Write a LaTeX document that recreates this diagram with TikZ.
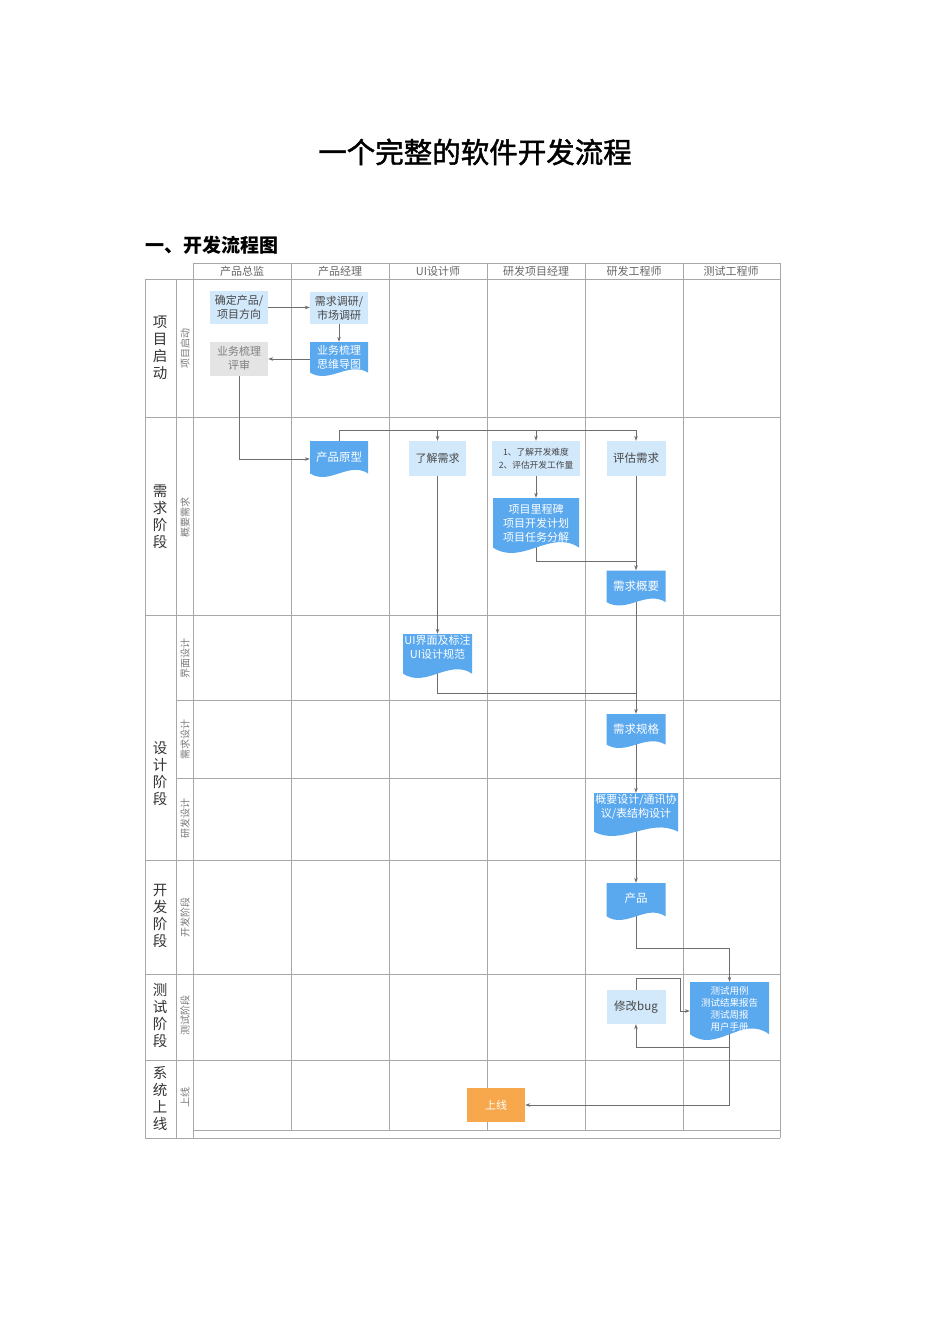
\documentclass[tikz,border=0pt]{standalone}
\usepackage{fontspec}
\setmainfont{Noto Sans CJK SC}
\newfontfamily\titlefont[FakeBold=1.5]{Noto Sans CJK SC}
\usetikzlibrary{calc,arrows.meta}
\pgfdeclarelayer{bg}
\pgfdeclarelayer{lines}
\pgfsetlayers{bg,lines,main}
\definecolor{gridc}{HTML}{A8A8A8}
\definecolor{lightb}{HTML}{D2E8FB}
\definecolor{docb}{HTML}{5AA8EE}
\definecolor{grayb}{HTML}{E4E4E4}
\definecolor{orangeb}{HTML}{F7A84C}
\definecolor{linec}{HTML}{6E6E6E}
\definecolor{headc}{HTML}{666666}
\definecolor{subc}{HTML}{7A7A7A}
\tikzset{
  gridline/.style={draw=gridc, line width=1pt},
  lightbox/.style={fill=lightb, text=black!72, font=\fontsize{11}{14}\selectfont, align=center, inner sep=0pt},
  graybox/.style={fill=grayb, text=black!50, font=\fontsize{11}{14}\selectfont, align=center, inner sep=0pt},
  orangebox/.style={fill=orangeb, text=white, font=\fontsize{11}{14}\selectfont, align=center, inner sep=0pt},
  docframe/.style={inner sep=0pt},
  doctext/.style={text=white, font=\fontsize{11}{14}\selectfont, align=center, inner sep=0pt},
  conn/.style={draw=linec, line width=0.8pt},
  arr/.style={conn, -{Stealth[length=5pt,width=3.6pt]}},
  headtext/.style={text=headc, font=\fontsize{11}{12}\selectfont, inner sep=0pt},
  phasetext/.style={text=black!80, font=\fontsize{14.5}{17}\selectfont, align=center, inner sep=0pt},
  subtext/.style={text=subc, font=\fontsize{10}{12}\selectfont, rotate=90, inner sep=0pt},
}
% name, cx, cy, w, h, text, text y offset
\newcommand\docnode[7]{%
  \fill[docb] ({#2-#4/2},{#3-#5/2}) -- ({#2+#4/2},{#3-#5/2}) -- ({#2+#4/2},{#3+0.4*#5})
    .. controls ({#2+#4/6},{#3+0.4*#5-0.345*#5}) and ({#2-#4/6},{#3+0.4*#5+0.345*#5}) .. ({#2-#4/2},{#3+0.4*#5}) -- cycle;
  \node[docframe, minimum width=#4pt, minimum height=#5pt] (#1) at (#2,#3) {};
  \node[doctext] (#1-t) at (#2,{#3+#7}) {#6};
}
\begin{document}
\begin{tikzpicture}[x=1pt,y=-1pt]
\useasboundingbox (0,0) rectangle (950,1344);
\begin{pgfonlayer}{bg}
  \fill[white] (0,0) rectangle (950,1344);
  % header row
  \draw[gridline] (193,263) -- (780,263);
  % full horizontal lines
  \foreach \yy in {279,417,615,860,974,1060,1138} \draw[gridline] (145,\yy) -- (780,\yy);
  \foreach \yy in {700,778} \draw[gridline] (176,\yy) -- (780,\yy);
  \draw[gridline] (193,1130) -- (780,1130);
  % verticals
  \draw[gridline] (145,279) -- (145,1138);
  \draw[gridline] (176,279) -- (176,1138);
  \draw[gridline] (193,263) -- (193,1138);
  \draw[gridline] (780,263) -- (780,1138);
  \foreach \xx in {291,389,487,585,683} \draw[gridline] (\xx,263) -- (\xx,1130);
\end{pgfonlayer}

% title and heading
\node[font=\fontsize{28.5}{31}\selectfont\titlefont, inner sep=0pt] (title) at (475,152) {一个完整的软件开发流程};
\node[font=\fontsize{19}{21}\selectfont\bfseries, anchor=west, inner sep=0pt] (heading) at (145,245) {一、开发流程图};

% header labels
\node[headtext] (hA) at (242,271) {产品总监};
\node[headtext] (hB) at (340,271) {产品经理};
\node[headtext] (hC) at (438,271) {UI设计师};
\node[headtext] (hD) at (536,271) {研发项目经理};
\node[headtext] (hE) at (634,271) {研发工程师};
\node[headtext] (hF) at (731,271) {测试工程师};

% phase labels
\node[phasetext] (pA) at (160,348) {项\\目\\启\\动};
\node[phasetext] (pB) at (160,517) {需\\求\\阶\\段};
\node[phasetext] (pC) at (160,774) {设\\计\\阶\\段};
\node[phasetext] (pD) at (160,916) {开\\发\\阶\\段};
\node[phasetext] (pE) at (160,1016) {测\\试\\阶\\段};
\node[phasetext] (pF) at (160,1099) {系\\统\\上\\线};

% sub labels
\node[subtext] (sA) at (185,348) {项目启动};
\node[subtext] (sB) at (185,517) {概要需求};
\node[subtext] (sC) at (185,658) {界面设计};
\node[subtext] (sD) at (185,739) {需求设计};
\node[subtext] (sE) at (185,818) {研发设计};
\node[subtext] (sF) at (185,917) {开发阶段};
\node[subtext] (sG) at (185,1015) {测试阶段};
\node[subtext] (sH) at (185,1097) {上线};

% boxes
\node[lightbox, minimum width=58pt, minimum height=33pt] (n1) at (239,307.5) {确定产品/\\项目方向};
\node[lightbox, minimum width=58pt, minimum height=32pt] (n2) at (339,308) {需求调研/\\市场调研};
\docnode{n3}{339}{359}{58}{34}{业务梳理\\思维导图}{-2}
\node[graybox, minimum width=58pt, minimum height=34pt] (n4) at (239,358.5) {业务梳理\\评审};
\docnode{n5}{339}{459}{58}{36}{\fontsize{11.5}{14}\selectfont 产品原型}{-2}
\node[lightbox, minimum width=57pt, minimum height=35pt] (n6) at (437.5,458.5) {了解需求};
\node[lightbox, minimum width=88pt, minimum height=35pt, font=\fontsize{8.7}{12.5}\selectfont] (n7) at (536,458.5) {1、了解开发难度\\2、评估开发工作量};
\node[lightbox, minimum width=59pt, minimum height=35pt, font=\fontsize{11.5}{14}\selectfont] (n8) at (636,458.5) {评估需求};
\docnode{n9}{536}{525.5}{86}{55}{项目里程碑\\项目开发计划\\项目任务分解}{-2}
\docnode{n10}{636}{588}{59}{35}{\fontsize{11.5}{14}\selectfont 需求概要}{-2}
\docnode{n11}{437.5}{656}{69}{44}{UI界面及标注\\UI设计规范}{-9}
\docnode{n12}{636}{731}{59}{34}{\fontsize{11.5}{14}\selectfont 需求规格}{-2}
\docnode{n13}{636}{814.5}{84}{43}{概要设计/通讯协\\议/表结构设计}{-8}
\docnode{n14}{636}{901.5}{59}{37}{\fontsize{11.5}{14}\selectfont 产品}{-3}
\node[lightbox, minimum width=59pt, minimum height=34pt, font=\fontsize{11.5}{13}\selectfont] (n16) at (636,1007) {修改bug};
\fill[docb] ({729.5-39.5},982) -- ({729.5+39.5},982) -- ({729.5+39.5},{1011+0.4*58})
  .. controls ({729.5+79/6},{1011+0.4*58-0.345*58}) and ({729.5-79/6},{1011+0.4*58+0.345*58}) .. ({729.5-39.5},{1011+0.4*58}) -- cycle;
\node[docframe, minimum width=79pt, minimum height=58pt] (n15) at (729.5,1011) {};
\node[doctext, font=\fontsize{9.5}{12}\selectfont] (n15-t) at (729.5,1009) {测试用例\\测试结果报告\\测试周报\\用户手册};
\node[orangebox, minimum width=58pt, minimum height=34pt] (n17) at (496,1105) {上线};

% connector helper coordinates
\coordinate (b1) at (339,430);
\coordinate (j1) at (636,561);
\coordinate (j2) at (636,693);
\coordinate (j3) at (636,948);
\coordinate (l1) at (680,978);
\coordinate (l2) at (729.5,1047);

\begin{pgfonlayer}{lines}
  \draw[arr] (n1.east) -- (n1.east -| n2.west);
  \draw[arr] (n2.south) -- (n3.north);
  \draw[arr] (n3.west) -- (n3.west -| n4.east);
  \draw[arr] (n4.south) |- (n5.west);
  \draw[conn] (n5.north) -- (b1) -- (b1 -| n8.north);
  \draw[arr] (b1 -| n6.north) -- (n6.north);
  \draw[arr] (b1 -| n7.north) -- (n7.north);
  \draw[arr] (b1 -| n8.north) -- (n8.north);
  \draw[arr] (n7.south) -- (n9.north);
  \draw[conn] (n9.center) |- (j1);
  \draw[arr] (n8.south) -- (n10.north);
  \draw[arr] (n6.south) -- (n11.north);
  \draw[conn] (n11.center) |- (j2);
  \draw[arr] (n10.center) -- (n12.north);
  \draw[arr] (n12.center) -- (n13.north);
  \draw[arr] (n13.center) -- (n14.north);
  \draw[arr] (n14.center) -- (j3) -| (n15.north);
  \draw[arr] (n16.north) |- (l1) |- (n15.west);
  \draw[arr] (n15.center) -- (l2) -| (n16.south);
  \draw[arr] (l2) |- (n17.east);
\end{pgfonlayer}
\end{tikzpicture}
\end{document}
